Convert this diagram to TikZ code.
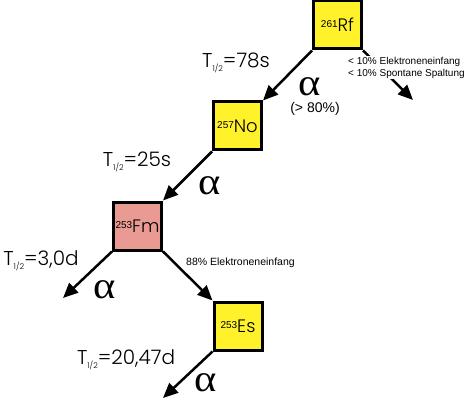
\documentclass[tikz,border=0pt]{standalone}
\usepackage{fontspec}
\newfontfamily\gothic[UprightFont = * Light]{Poppins}
\newfontfamily\arialfont{Liberation Sans}
\newfontfamily\greekfont{Liberation Serif}
\usetikzlibrary{arrows.meta}
\definecolor{colorYellow}{HTML}{FFF22B}
\definecolor{colorSalmon}{HTML}{E99A93}
\def\colorYellow{colorYellow}
\def\colorSalmon{colorSalmon}
\newcommand{\isotope}[2]{{\arialfont\fontsize{10}{10}\selectfont\raisebox{4pt}{#1}}{\gothic\fontsize{18}{18}\selectfont #2}}
\newcommand{\halflife}[1]{{\gothic\fontsize{20}{20}\selectfont T\raisebox{-3.5pt}{\fontsize{8}{8}\selectfont 1/2}=#1}}
\newcommand{\alphalabel}{{\greekfont\fontsize{38}{38}\selectfont\scalebox{1.12}[1]{α}}}
\tikzset{
    nuclide/.style = {draw = black , line width = 3pt , minimum size = 48pt , inner sep = 0pt , fill = \colorYellow},
    decay/.style = {line width = 2.5pt , -{Triangle[length=15pt,width=13pt]}},
    small/.style = {font = \arialfont\fontsize{10}{12}\selectfont , inner sep = 1pt},
    greek/.style = {inner sep = 0pt}
}

\begin{document}
\begin{tikzpicture}[x=1pt , y=-1pt]
    \useasboundingbox (0,0) rectangle (466,401);

    % Kerne
    \node[nuclide] (rf) at (337.5,25) {\isotope{261}{Rf}};
    \node[nuclide] (no) at (237.5,126) {\isotope{257}{No}};
    \node[nuclide , fill = \colorSalmon] (fm) at (137.5,226) {\isotope{253}{Fm}};
    \node[nuclide] (es) at (238,326) {\isotope{253}{Es}};

    % freie Enden
    \coordinate (rfend) at (413,100);
    \coordinate (fmend) at (63,298);
    \coordinate (esend) at (163,398);

    % Zerfaelle
    \draw[decay] (rf.south west) -- (no.north east);
    \draw[decay] (rf.south east) -- (rfend);
    \draw[decay] (no.south west) -- (fm.north east);
    \draw[decay] (fm.south west) -- (fmend);
    \draw[decay] (fm.south east) -- (es.north west);
    \draw[decay] (es.south west) -- (esend);

    % Beschriftungen
    \node[small , fill = white , align = left , anchor = west] (rfside) at (347,67.5)
        {< 10\% Elektroneneinfang\\< 10\% Spontane Spaltung};
    \node (hlrf) at (236,63) {\halflife{78s}};
    \node[greek] (alrf) at (310,87) {\alphalabel};
    \node[font = \arialfont\fontsize{14}{14}\selectfont , inner sep = 0pt] (pcrf) at (315,109) {(> 80\%)};

    \node (hlno) at (137,162) {\halflife{25s}};
    \node[greek] (alno) at (210,186) {\alphalabel};

    \node (hlfm) at (41,261) {\halflife{3,0d}};
    \node[greek] (alfm) at (105,290) {\alphalabel};
    \node[small , anchor = west , font = \arialfont\fontsize{10.5}{12}\selectfont] (ecfm) at (185,263) {88\% Elektroneneinfang};

    \node (hles) at (126,360) {\halflife{20,47d}};
    \node[greek] (ales) at (206,383) {\alphalabel};
\end{tikzpicture}
\end{document}
